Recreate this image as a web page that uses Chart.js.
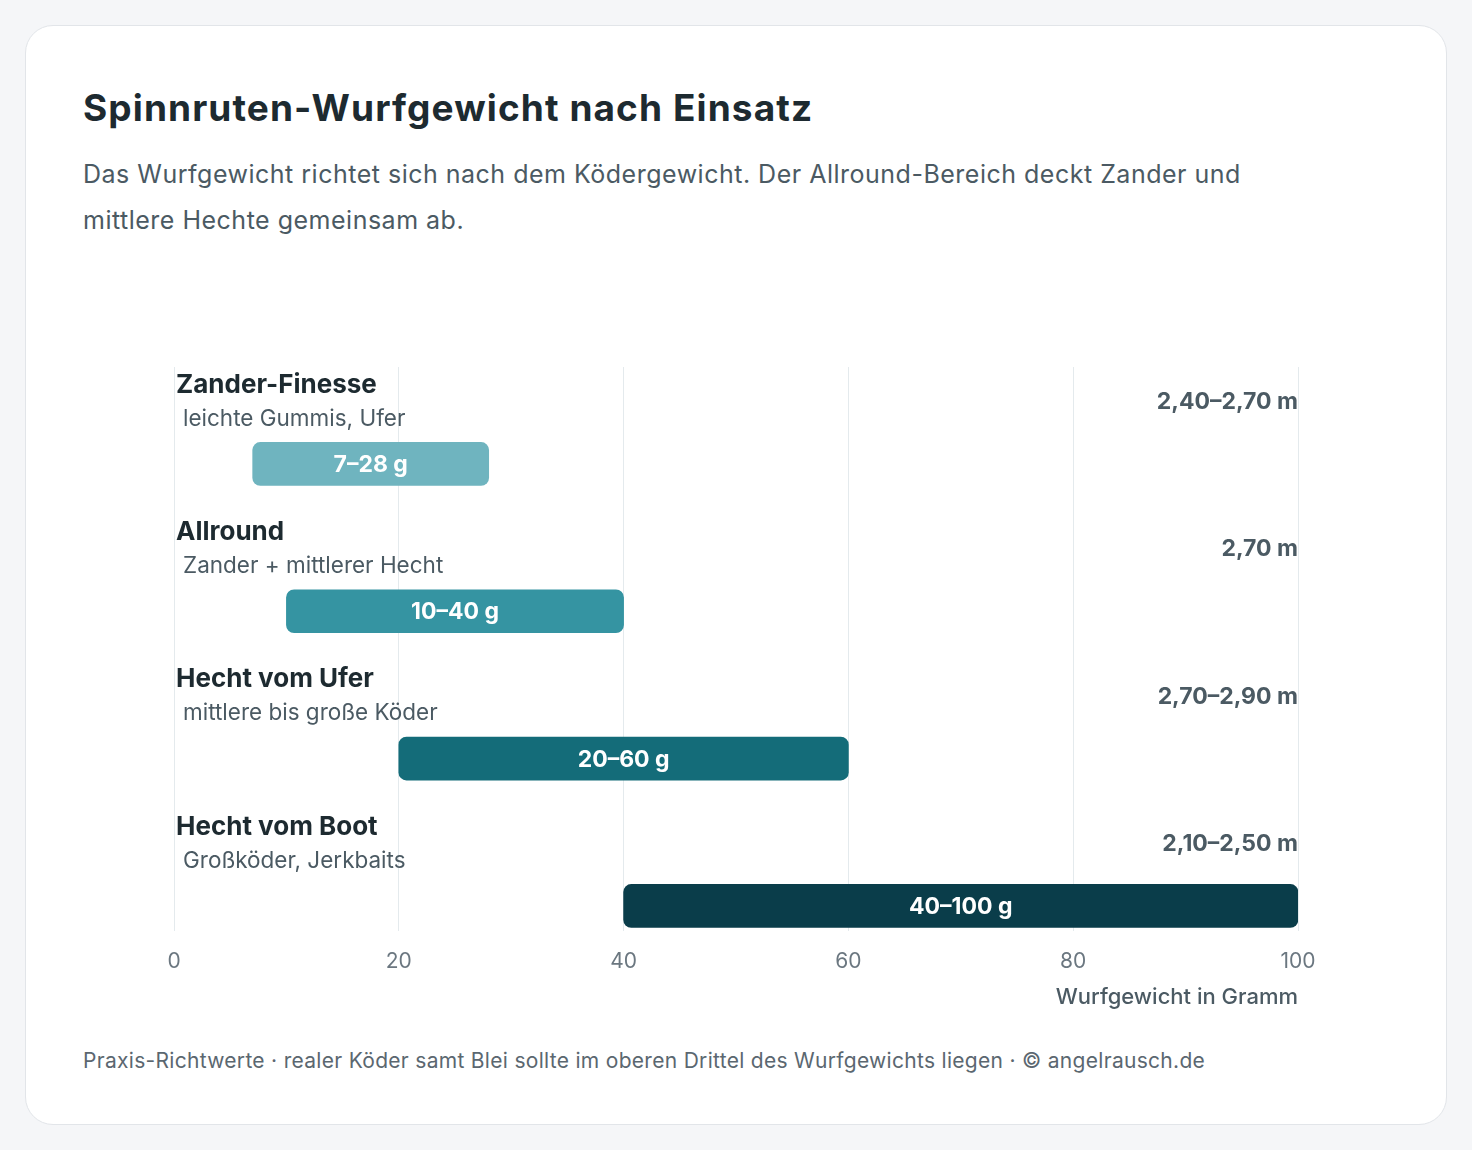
<!DOCTYPE html>
<html lang="de">
<head>
<meta charset="utf-8">
<title>Spinnruten-Wurfgewicht nach Einsatz</title>
<script src="https://cdn.jsdelivr.net/npm/chart.js@4.4.1/dist/chart.umd.min.js"></script>
<style>
    html, body {
        margin: 0;
        padding: 0;
        background: #f5f6f8;
        font-family: Inter, "Noto Sans", sans-serif;
    }
    .card {
        position: absolute;
        left: 25px;
        top: 25px;
        width: 1420px;
        height: 1098px;
        background: #ffffff;
        border: 1px solid #e2e5e9;
        border-radius: 28px;
    }
    h1 {
        position: absolute;
        left: 57px;
        top: 59px;
        margin: 0;
        font-size: 37px;
        font-weight: 700;
        color: #1d2a30;
        letter-spacing: 1.1px;
    }
    .sub {
        position: absolute;
        left: 57px;
        top: 125px;
        width: 1200px;
        margin: 0;
        font-size: 25px;
        letter-spacing: 0.5px;
        line-height: 46px;
        color: #4b5a63;
    }
    .chart-wrap {
        position: absolute;
        left: 57px;
        top: 315px;
        width: 1308px;
        height: 670px;
    }
    .foot {
        position: absolute;
        left: 57px;
        top: 1022px;
        margin: 0;
        font-size: 21px;
        letter-spacing: 0.3px;
        color: #5b6770;
    }
</style>
</head>
<body>
<div class="card">
    <h1>Spinnruten-Wurfgewicht nach Einsatz</h1>
    <p class="sub">Das Wurfgewicht richtet sich nach dem Ködergewicht. Der Allround-Bereich deckt Zander und mittlere Hechte gemeinsam ab.</p>
    <div class="chart-wrap"><canvas id="chart"></canvas></div>
    <p class="foot">Praxis-Richtwerte · realer Köder samt Blei sollte im oberen Drittel des Wurfgewichts liegen · © angelrausch.de</p>
</div>
<script>
// Daten
const categories = ['Zander-Finesse', 'Allround', 'Hecht vom Ufer', 'Hecht vom Boot'];
const subtitles = ['leichte Gummis, Ufer', 'Zander + mittlerer Hecht', 'mittlere bis große Köder', 'Großköder, Jerkbaits'];
const minWeights = [7, 10, 20, 40];
const maxWeights = [28, 40, 60, 100];
const rodLengths = ['2,40–2,70 m', '2,70 m', '2,70–2,90 m', '2,10–2,50 m'];
const barColors = ['#6fb4bf', '#3594a2', '#146c79', '#0a3d4a'];
const xTicks = [0, 20, 40, 60, 80, 100];

const FONT = 'Inter, "Noto Sans", sans-serif';

// Beschriftungen: Titel, Untertitel, Rutenlänge und Wert im Balken
const labelPlugin = {
    id: 'rowLabels',
    afterDatasetsDraw(chart) {
        const ctx = chart.ctx;
        const meta = chart.getDatasetMeta(0);
        const area = chart.chartArea;
        ctx.save();
        meta.data.forEach((bar, i) => {
            const cy = bar.y;
            ctx.textBaseline = 'middle';

            ctx.textAlign = 'left';
            ctx.fillStyle = '#1d2a30';
            ctx.font = '700 26px ' + FONT;
            ctx.fillText(categories[i], area.left + 2, cy - 79);

            ctx.fillStyle = '#4b5a63';
            ctx.font = '400 22.5px ' + FONT;
            ctx.fillText(subtitles[i], area.left + 9, cy - 45);

            ctx.textAlign = 'right';
            ctx.fillStyle = '#4b5a63';
            ctx.font = '700 23px ' + FONT;
            ctx.fillText(rodLengths[i], area.right, cy - 62);

            ctx.textAlign = 'center';
            ctx.fillStyle = '#ffffff';
            ctx.font = '700 23px ' + FONT;
            ctx.fillText(minWeights[i] + '–' + maxWeights[i] + ' g', (bar.x + bar.base) / 2, cy + 1);
        });
        ctx.restore();
    }
};

new Chart(document.getElementById('chart'), {
    type: 'bar',
    data: {
        datasets: [{
            data: categories.map((c, i) => ({ y: i, x: [minWeights[i], maxWeights[i]] })),
            backgroundColor: barColors,
            borderRadius: 8,
            borderSkipped: false,
            barThickness: 43
        }]
    },
    options: {
        indexAxis: 'y',
        responsive: true,
        maintainAspectRatio: false,
        animation: false,
        layout: {
            padding: { left: 91, right: 93, top: 26, bottom: 0 }
        },
        plugins: {
            legend: { display: false },
            tooltip: { enabled: false }
        },
        scales: {
            y: {
                type: 'linear',
                reverse: true,
                offset: false,
                min: -0.658,
                max: 3.173,
                display: false
            },
            x: {
                type: 'linear',
                min: 0,
                max: 100,
                afterBuildTicks(scale) {
                    scale.ticks = xTicks.map(v => ({ value: v }));
                },
                grid: {
                    color: '#e4eaed',
                    drawTicks: false
                },
                border: { display: false },
                ticks: {
                    color: '#6b7780',
                    padding: 18,
                    font: { family: FONT, size: 21 }
                },
                title: {
                    display: true,
                    text: 'Wurfgewicht in Gramm',
                    align: 'end',
                    color: '#4b5a63',
                    padding: { top: -8, bottom: 0 },
                    font: { family: FONT, size: 22, weight: '500' }
                }
            }
        }
    },
    plugins: [labelPlugin]
});
</script>
</body>
</html>
